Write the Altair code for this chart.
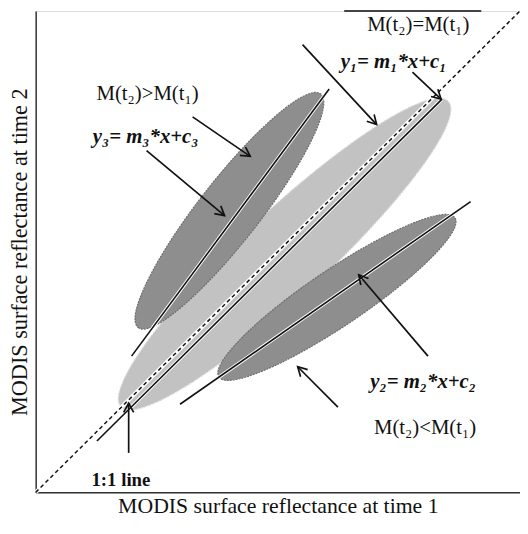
import math
import altair as alt
import pandas as pd

# ---- data (unit coordinates: x = reflectance at time 1, y = reflectance at time 2)
# ellipses: centre, semi-major / semi-minor length (axis units), tilt (deg)
ell_name = ["stable", "increase", "decrease"]
ell_cx = [0.514, 0.400, 0.622]
ell_cy = [0.495, 0.585, 0.405]
ell_a = [0.462, 0.306, 0.294]
ell_b = [0.088, 0.063, 0.058]
ell_tilt = [43, 52, 34]
ell_fill = ["#c2c2c2", "#8e8e8e", "#8e8e8e"]
ell_stroke = ["#d8d8d8", "#6e6e6e", "#6e6e6e"]

# regression lines
line_name = ["y1", "y3", "y2"]
line_x0 = [0.1265, 0.198, 0.298]
line_y0 = [0.1068, 0.283, 0.183]
line_x1 = [0.839, 0.606, 0.898]
line_y1 = [0.817, 0.838, 0.604]

# 1:1 line
one_x = [0.0, 1.0]
one_y = [0.0, 1.0]

# arrows (start -> head)
arr_x0 = [0.551, 0.778, 0.324, 0.229, 0.810, 0.624, 0.192]
arr_y0 = [0.930, 0.873, 0.780, 0.710, 0.283, 0.177, 0.082]
arr_x1 = [0.704, 0.837, 0.443, 0.390, 0.667, 0.541, 0.192]
arr_y1 = [0.764, 0.817, 0.698, 0.575, 0.452, 0.261, 0.185]

# labels
lab_text = ["M(t\u2082)=M(t\u2081)", "M(t\u2082)>M(t\u2081)", "M(t\u2082)<M(t\u2081)"]
lab_x = [0.790, 0.231, 0.804]
lab_y = [0.971, 0.827, 0.133]

eq_text = ["y\u2081= m\u2081*x+c\u2081", "y\u2083= m\u2083*x+c\u2083", "y\u2082= m\u2082*x+c\u2082"]
eq_x = [0.739, 0.227, 0.800]
eq_y = [0.893, 0.739, 0.230]

one_lab = ["1:1 line"]
one_lab_x = [0.176]
one_lab_y = [0.025]

# top partial frame
top_x0 = [0.637]
top_x1 = [0.920]
top_y = [1.0]

W, H = 490, 487
SERIF = "Liberation Serif"

xs = alt.Scale(domain=[0, 1], nice=False, zero=False)
ys = alt.Scale(domain=[0, 1], nice=False, zero=False)

# ---- tables
ell_rows = []
for i in range(len(ell_name)):
    a_px = ell_a[i] * W
    ratio = ell_b[i] / ell_a[i]
    path = f"M -1 0 A 1 {ratio:.4f} 0 1 0 1 0 A 1 {ratio:.4f} 0 1 0 -1 0 Z"
    ell_rows.append(dict(name=ell_name[i], x=ell_cx[i], y=ell_cy[i], shape=path,
                         size=(2 * a_px) ** 2, angle=(360 - ell_tilt[i]) % 360,
                         fill=ell_fill[i], stroke=ell_stroke[i]))
ell_df = pd.DataFrame(ell_rows)

line_df = pd.DataFrame(dict(name=line_name, x=line_x0, y=line_y0, x2=line_x1, y2=line_y1))
one_df = pd.DataFrame(dict(x=[one_x[0]], y=[one_y[0]], x2=[one_x[1]], y2=[one_y[1]]))

arr_rows = []
for i in range(len(arr_x0)):
    dx = (arr_x1[i] - arr_x0[i]) * W
    dy = (arr_y1[i] - arr_y0[i]) * H
    ang = math.degrees(math.atan2(dx, dy)) % 360
    arr_rows.append(dict(x=arr_x0[i], y=arr_y0[i], x2=arr_x1[i], y2=arr_y1[i], angle=ang))
arr_df = pd.DataFrame(arr_rows)

lab_df = pd.DataFrame(dict(text=lab_text, x=lab_x, y=lab_y))
eq_df = pd.DataFrame(dict(text=eq_text, x=eq_x, y=eq_y))
one_lab_df = pd.DataFrame(dict(text=one_lab, x=one_lab_x, y=one_lab_y))
top_df = pd.DataFrame(dict(x=top_x0, x2=top_x1, y=top_y))

X = lambda f="x": alt.X(f"{f}:Q", scale=xs,
                        axis=alt.Axis(title="MODIS surface reflectance at time 1", labels=False,
                                      ticks=False, grid=False, domainColor="#333",
                                      domainWidth=1.5, titleFont=SERIF, titleFontSize=22,
                                      titleFontWeight="normal", titleColor="#111",
                                      titlePadding=3))
Y = lambda f="y": alt.Y(f"{f}:Q", scale=ys,
                        axis=alt.Axis(title="MODIS surface reflectance at time 2", labels=False,
                                      ticks=False, grid=False, domainColor="#333",
                                      domainWidth=1.5, titleFont=SERIF, titleFontSize=22.5,
                                      titleFontWeight="normal", titleColor="#111",
                                      titlePadding=4))

ellipses = alt.Chart(ell_df).mark_point(filled=True, opacity=1, strokeWidth=1.2,
                                         strokeDash=[2, 1]).encode(
    x=X(), y=Y(),
    shape=alt.Shape("shape:N", scale=None),
    size=alt.Size("size:Q", scale=None),
    angle=alt.Angle("angle:Q", scale=None),
    fill=alt.Fill("fill:N", scale=None),
    stroke=alt.Stroke("stroke:N", scale=None),
)

one_halo = alt.Chart(one_df).mark_rule(color="white", strokeWidth=4).encode(
    x=X(), y=Y(), x2="x2:Q", y2="y2:Q")
one_line = alt.Chart(one_df).mark_rule(color="#111", strokeWidth=1.5, strokeDash=[4, 3]).encode(
    x=X(), y=Y(), x2="x2:Q", y2="y2:Q")

line_halo = alt.Chart(line_df).mark_rule(color="white", strokeWidth=3.5).encode(
    x=X(), y=Y(), x2="x2:Q", y2="y2:Q")
lines = alt.Chart(line_df).mark_rule(color="#111", strokeWidth=1.6).encode(
    x=X(), y=Y(), x2="x2:Q", y2="y2:Q")

arr_shaft = alt.Chart(arr_df).mark_rule(color="#111", strokeWidth=1.7).encode(
    x=X(), y=Y(), x2="x2:Q", y2="y2:Q")
arr_head = alt.Chart(arr_df).mark_point(
    filled=False, opacity=1, color="#111", strokeWidth=1.7,
    shape="M -0.55 1 L 0 0 L 0.55 1", size=340).encode(
    x=X("x2"), y=Y("y2"), angle=alt.Angle("angle:Q", scale=None))

labels = alt.Chart(lab_df).mark_text(font=SERIF, fontSize=21, color="#111",
                                      align="center", baseline="middle").encode(
    x=X(), y=Y(), text="text:N")
eqs = alt.Chart(eq_df).mark_text(font=SERIF, fontSize=21, fontStyle="italic",
                                  fontWeight="bold", color="#111",
                                  align="center", baseline="middle").encode(
    x=X(), y=Y(), text="text:N")
one_text = alt.Chart(one_lab_df).mark_text(font=SERIF, fontSize=19, fontWeight="bold",
                                            color="#111", align="center",
                                            baseline="middle").encode(
    x=X(), y=Y(), text="text:N")

top_rule = alt.Chart(top_df).mark_rule(color="#444", strokeWidth=2).encode(
    x=X(), x2="x2:Q", y=Y())

chart = alt.layer(
    ellipses, one_halo, line_halo, lines, one_line, arr_shaft, arr_head,
    labels, eqs, one_text, top_rule
).properties(
    width=W, height=H,
    autosize=alt.AutoSizeParams(type="none"),
    padding={"left": 28, "top": 0, "right": 0, "bottom": 30},
).configure_view(stroke=None).configure(background="white")

chart.save("out.html", embed_options={"renderer": "svg", "actions": False})
